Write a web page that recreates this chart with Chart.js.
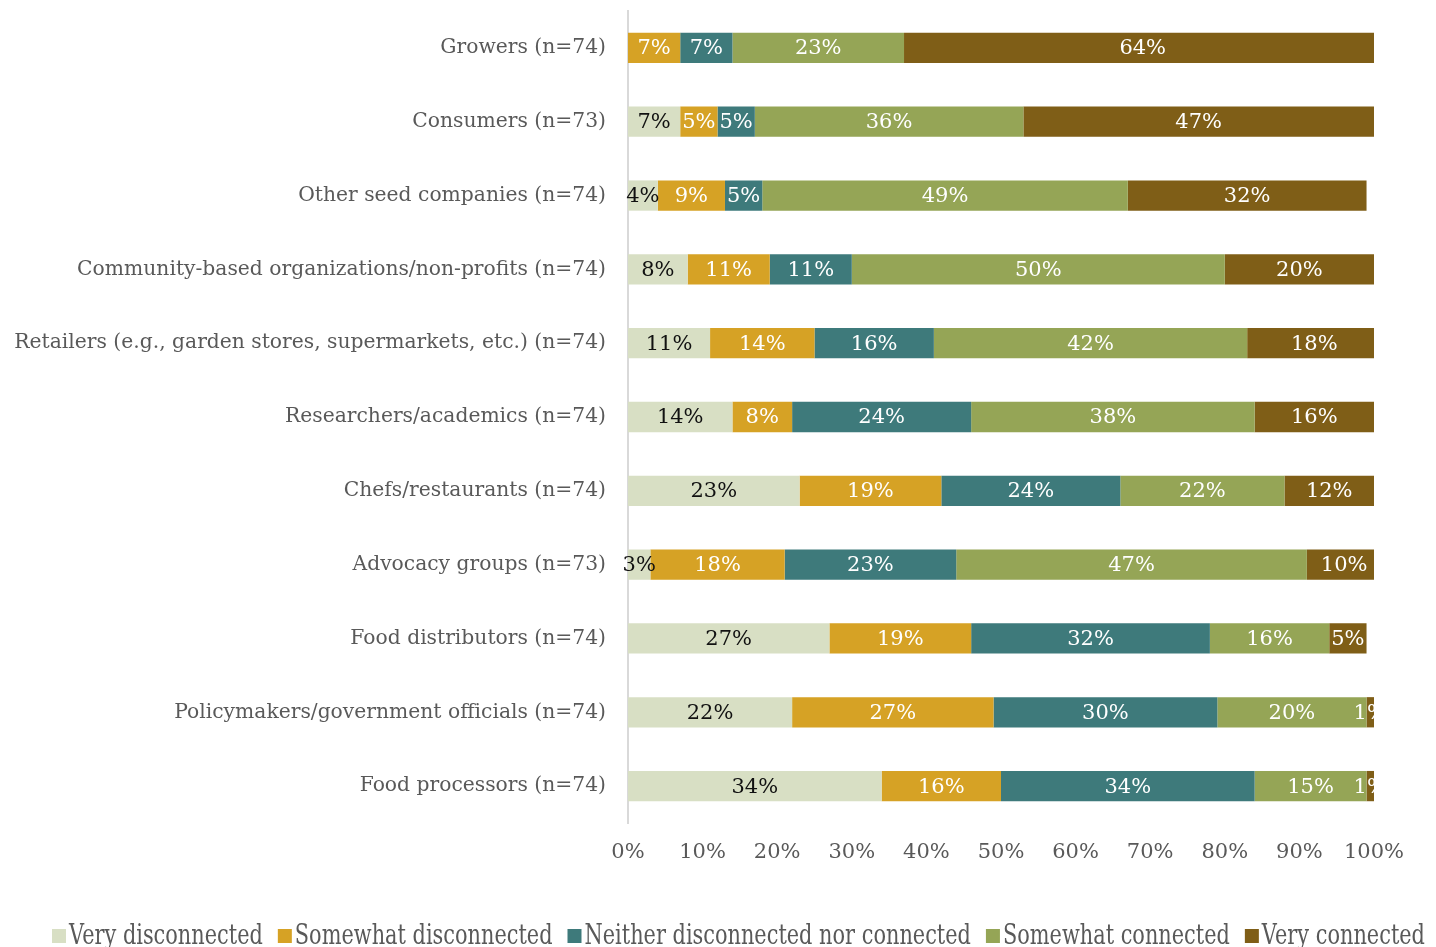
<!DOCTYPE html>
<html>
<head>
<meta charset="utf-8">
<script src="https://cdn.jsdelivr.net/npm/chart.js@4.4.1/dist/chart.umd.min.js"></script>
<style>
  html, body { margin: 0; padding: 0; background: #ffffff; }
  #wrap { position: relative; width: 1436px; height: 947px; }
</style>
</head>
<body>
<div id="wrap"><canvas id="chart"></canvas></div>
<script>
// Stakeholder groups, top to bottom
const groups = [
  'Growers (n=74)',
  'Consumers (n=73)',
  'Other seed companies (n=74)',
  'Community-based organizations/non-profits (n=74)',
  'Retailers (e.g., garden stores, supermarkets, etc.) (n=74)',
  'Researchers/academics (n=74)',
  'Chefs/restaurants (n=74)',
  'Advocacy groups (n=73)',
  'Food distributors (n=74)',
  'Policymakers/government officials (n=74)',
  'Food processors (n=74)'
];

// Share of respondents (%) per response, one value per group
const veryDisconnected     = [0, 7, 4, 8, 11, 14, 23, 3, 27, 22, 34];
const somewhatDisconnected = [7, 5, 9, 11, 14, 8, 19, 18, 19, 27, 16];
const neither              = [7, 5, 5, 11, 16, 24, 24, 23, 32, 30, 34];
const somewhatConnected    = [23, 36, 49, 50, 42, 38, 22, 47, 16, 20, 15];
const veryConnected        = [64, 47, 32, 20, 18, 16, 12, 10, 5, 1, 1];

const responseNames = [
  'Very disconnected',
  'Somewhat disconnected',
  'Neither disconnected nor connected',
  'Somewhat connected',
  'Very connected'
];
const responseColors = ['#d8dfc4', '#d6a225', '#3e7a7b', '#95a556', '#7f5e17'];
const labelColors = ['#111111', '#ffffff', '#ffffff', '#ffffff', '#ffffff'];
const xTicks = [0, 10, 20, 30, 40, 50, 60, 70, 80, 90, 100];

const FONT = "'DejaVu Serif', 'Liberation Serif', serif";
const TEXT_GRAY = '#595959';
const series = [veryDisconnected, somewhatDisconnected, neither, somewhatConnected, veryConnected];

// Percent labels centred on each segment; clipped at the right edge of the plot
const segmentLabels = {
  id: 'segmentLabels',
  afterDatasetsDraw(chart) {
    const ctx = chart.ctx;
    const area = chart.chartArea;
    ctx.save();
    ctx.beginPath();
    ctx.rect(0, 0, area.right, chart.height);
    ctx.clip();
    ctx.font = '21px ' + FONT;
    ctx.textAlign = 'center';
    ctx.textBaseline = 'middle';
    chart.data.datasets.forEach((ds, di) => {
      const meta = chart.getDatasetMeta(di);
      meta.data.forEach((bar, i) => {
        const v = ds.data[i];
        if (!v) return;
        ctx.fillStyle = labelColors[di];
        ctx.fillText(v + '%', (bar.x + bar.base) / 2, bar.y + 1);
      });
    });
    ctx.restore();
  }
};

// Single-row legend along the bottom edge, with narrow (horizontally squeezed) text
const bottomLegend = {
  id: 'bottomLegend',
  afterDraw(chart) {
    const ctx = chart.ctx;
    const squeeze = 0.745;
    const baseline = 944;
    const box = 14;
    let x = 52;
    ctx.save();
    ctx.font = '28px ' + FONT;
    ctx.textAlign = 'left';
    ctx.textBaseline = 'alphabetic';
    chart.data.datasets.forEach(ds => {
      ctx.fillStyle = ds.backgroundColor;
      ctx.fillRect(x, baseline - 15, box, box);
      const tx = x + box + 3;
      const w = ctx.measureText(ds.label).width * squeeze;
      ctx.save();
      ctx.translate(tx, baseline);
      ctx.scale(squeeze, 1);
      ctx.fillStyle = TEXT_GRAY;
      ctx.fillText(ds.label, 0, 0);
      ctx.restore();
      x = tx + w + 15;
    });
    ctx.restore();
  }
};

new Chart(document.getElementById('chart'), {
  type: 'bar',
  data: {
    labels: groups,
    datasets: series.map((vals, k) => ({
      label: responseNames[k],
      data: vals,
      backgroundColor: responseColors[k],
      borderWidth: 0,
      categoryPercentage: 1,
      barPercentage: 0.41
    }))
  },
  plugins: [segmentLabels, bottomLegend],
  options: {
    indexAxis: 'y',
    responsive: true,
    maintainAspectRatio: false,
    animation: false,
    layout: { padding: { left: 0, right: 62, top: 11, bottom: 74 } },
    scales: {
      x: {
        stacked: true,
        min: 0,
        max: 100,
        afterBuildTicks(axis) { axis.ticks = xTicks.map(v => ({ value: v })); },
        afterFit(axis) { axis.height = 50; },
        grid: { display: false, drawTicks: false },
        border: { display: false },
        ticks: {
          padding: 17,
          color: TEXT_GRAY,
          font: { family: FONT, size: 21 },
          callback: v => v + '%'
        }
      },
      y: {
        stacked: true,
        afterFit(axis) {
          axis.width = 628;
          axis.paddingTop = 0;
          axis.paddingBottom = 0;
        },
        grid: { display: false, drawTicks: false },
        border: { display: true, color: '#d9d9d9', width: 2 },
        ticks: {
          padding: 22,
          color: TEXT_GRAY,
          font: { family: FONT, size: 20.3 },
          autoSkip: false
        }
      }
    },
    plugins: {
      tooltip: { enabled: false },
      legend: { display: false }
    }
  }
});
</script>
</body>
</html>
